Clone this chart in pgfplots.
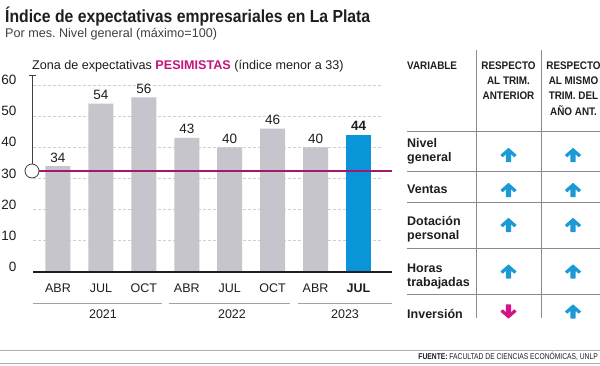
\documentclass[border=0pt]{standalone}
\usepackage{pgfplots}
\pgfplotsset{compat=1.18}
\usepackage{fontspec}
\setmainfont{Liberation Sans}
\newfontfamily\titlefont{Liberation Sans}[FakeStretch=0.9]
\newfontfamily\tabfont{Liberation Sans}[FakeStretch=0.9]
\newfontfamily\srcfont{Liberation Sans}[FakeStretch=0.8]
\definecolor{bargray}{HTML}{C6C5CB}
\definecolor{barblue}{HTML}{0B95D9}
\definecolor{magline}{HTML}{A3176F}
\definecolor{magtext}{HTML}{C5127E}
\definecolor{arrowblue}{HTML}{1C9AD6}
\definecolor{arrowmag}{HTML}{D3138A}
\definecolor{txt}{HTML}{1E1E1E}
\definecolor{gridgray}{HTML}{CFCFCF}
\definecolor{rulegray}{HTML}{8A8A8A}
\frenchspacing
\newcommand{\fs}[2]{\fontsize{#1bp}{#2bp}\selectfont}
\newcommand{\uparr}[1]{\fill[arrowblue, rounded corners=0.6bp] #1 ++(0,-7.2) -- ++(8.2,7.2) -- ++(-2.4,2.4) -- ++(-3.2,-3.2) -- ++(0,8) -- ++(-5.2,0) -- ++(0,-8) -- ++(-3.2,3.2) -- ++(-2.4,-2.4) -- cycle;}
\newcommand{\downarr}[1]{\fill[arrowmag, rounded corners=0.6bp] #1 ++(0,7.2) -- ++(8.2,-7.2) -- ++(-2.4,-2.4) -- ++(-3.2,3.2) -- ++(0,-8) -- ++(-5.2,0) -- ++(0,8) -- ++(-3.2,-3.2) -- ++(-2.4,2.4) -- cycle;}
\begin{document}
\begin{tikzpicture}[x=1bp,y=-1bp]
\useasboundingbox (0,0) rectangle (600,365);
\fill[white] (0,0) rectangle (600,365);
\begin{axis}[
  at={(33bp,-272bp)}, anchor=south west,
  scale only axis, width=350bp, height=187bp,
  xmin=-0.5823, xmax=7.5706, ymin=0, ymax=60,
  axis line style={draw=none},
  major tick length=0pt,
  xtick={0,...,7},
  xticklabels={ABR,JUL,OCT,ABR,JUL,OCT,ABR,\textbf{JUL}},
  ytick={0,10,...,60},
  ymajorgrids,
  grid style={gridgray, dash pattern=on 3bp off 2bp, line width=0.8bp},
  xticklabel style={font=\fs{12.5}{15}, text=txt, anchor=base, inner sep=0pt, yshift=-20bp},
  yticklabel style={font=\fs{13.5}{15}, text=txt, anchor=base east, inner sep=0pt, xshift=-16.5bp, yshift=0.5bp},
  /pgf/number format/assume math mode=true,
  clip=false,
]
\addplot[ybar, bar width=25bp, bar shift=0pt, fill=bargray, draw=none,
  nodes near coords,
  every node near coord/.append style={font=\fs{13.5}{15}, text=txt, anchor=base, inner sep=0pt, yshift=4bp}]
  coordinates {(0,34) (1,54) (2,56) (3,43) (4,40) (5,46) (6,40)};
\addplot[ybar, bar width=25bp, bar shift=0pt, fill=barblue, draw=none,
  nodes near coords={\textbf{\pgfmathprintnumber{\pgfplotspointmeta}}},
  every node near coord/.append style={font=\fs{13.5}{15}, text=txt, anchor=base, inner sep=0pt, yshift=4bp}]
  coordinates {(7,44)};
\draw[txt, line width=1.4bp] (axis cs:-0.5823,0) -- (axis cs:7.78,0);
\draw[magline, line width=1.4bp] (axis cs:-0.606,32.4) -- (axis cs:7.78,32.4);
\end{axis}
% y axis line with cap and circle
\draw[txt!85, line width=0.8bp] (32,75) -- (32,164);
\draw[txt!85, line width=0.8bp] (28.5,75) -- (35.5,75);
\draw[txt!85, line width=0.8bp, fill=white] (32,171) circle[radius=7];
% titles
\node[anchor=base west, inner sep=0, text=txt] at (5,22) {\titlefont\bfseries\fs{17.5}{20}Índice de expectativas empresariales en La Plata};
\node[anchor=base west, inner sep=0, text=txt!85] at (5,37.3) {\fs{12.6}{15}Por mes. Nivel general (máximo=100)};
\node[anchor=base west, inner sep=0, text=txt] at (32,69.3) {\fs{12.6}{15}Zona de expectativas \textbf{\color{magtext}PESIMISTAS} (índice menor a 33)};
% years
\draw[rulegray!80, line width=1bp] (33,303) -- (162,303);
\draw[rulegray!80, line width=1bp] (169,303) -- (290,303);
\draw[rulegray!80, line width=1bp] (298,303) -- (392,303);
\node[anchor=base, inner sep=0, text=txt] at (103,318) {\fs{12.5}{15}2021};
\node[anchor=base, inner sep=0, text=txt] at (232,318) {\fs{12.5}{15}2022};
\node[anchor=base, inner sep=0, text=txt] at (345,318) {\fs{12.5}{15}2023};
% table
\draw[rulegray, line width=0.8bp] (476,50) -- (476,318);
\draw[rulegray, line width=0.8bp] (541,50) -- (541,318);
\foreach \yy in {131,171,202,248,294} \draw[rulegray, line width=0.8bp] (407,\yy) -- (600,\yy);
\node[anchor=base west, inner sep=0, text=txt] at (407,69.5) {\tabfont\bfseries\fs{11}{15}VARIABLE};
\node[anchor=base, inner sep=0, text=txt] at (508.5,69.5) {\tabfont\bfseries\fs{11}{15}RESPECTO};
\node[anchor=base, inner sep=0, text=txt] at (508.5,84.7) {\tabfont\bfseries\fs{11}{15}AL TRIM.};
\node[anchor=base, inner sep=0, text=txt] at (508.5,99.9) {\tabfont\bfseries\fs{11}{15}ANTERIOR};
\node[anchor=base, inner sep=0, text=txt] at (573.5,69.5) {\tabfont\bfseries\fs{11}{15}RESPECTO};
\node[anchor=base, inner sep=0, text=txt] at (573.5,84.7) {\tabfont\bfseries\fs{11}{15}AL MISMO};
\node[anchor=base, inner sep=0, text=txt] at (573.5,99.9) {\tabfont\bfseries\fs{11}{15}TRIM. DEL};
\node[anchor=base, inner sep=0, text=txt] at (573.5,115.1) {\tabfont\bfseries\fs{11}{15}AÑO ANT.};
\node[anchor=base west, inner sep=0, text=txt] at (407,147.3) {\bfseries\fs{12.5}{15}Nivel};
\node[anchor=base west, inner sep=0, text=txt] at (407,161.7) {\bfseries\fs{12.5}{15}general};
\node[anchor=base west, inner sep=0, text=txt] at (407,193) {\bfseries\fs{12.5}{15}Ventas};
\node[anchor=base west, inner sep=0, text=txt] at (407,225) {\bfseries\fs{12.5}{15}Dotación};
\node[anchor=base west, inner sep=0, text=txt] at (407,239.5) {\bfseries\fs{12.5}{15}personal};
\node[anchor=base west, inner sep=0, text=txt] at (407,272.5) {\bfseries\fs{12.5}{15}Horas};
\node[anchor=base west, inner sep=0, text=txt] at (407,286.7) {\bfseries\fs{12.5}{15}trabajadas};
\node[anchor=base west, inner sep=0, text=txt] at (407,318) {\bfseries\fs{12.5}{15}Inversión};
\uparr{(508.5,155)} \uparr{(573,155)}
\uparr{(508.5,190)} \uparr{(573,190)}
\uparr{(508.5,225)} \uparr{(573,225)}
\uparr{(508.5,271.5)} \uparr{(573,271.5)}
\downarr{(508.5,311.5)} \uparr{(573,311.5)}
% footer
\draw[rulegray!70, line width=0.9bp] (0,350.3) -- (600,350.3);
\draw[rulegray!70, line width=0.9bp] (0,363.5) -- (600,363.5);
\node[anchor=base east, inner sep=0, text=txt] at (598,359.3) {\srcfont\fs{8.4}{10}\textbf{FUENTE:} FACULTAD DE CIENCIAS ECONÓMICAS, UNLP};
\end{tikzpicture}
\end{document}
